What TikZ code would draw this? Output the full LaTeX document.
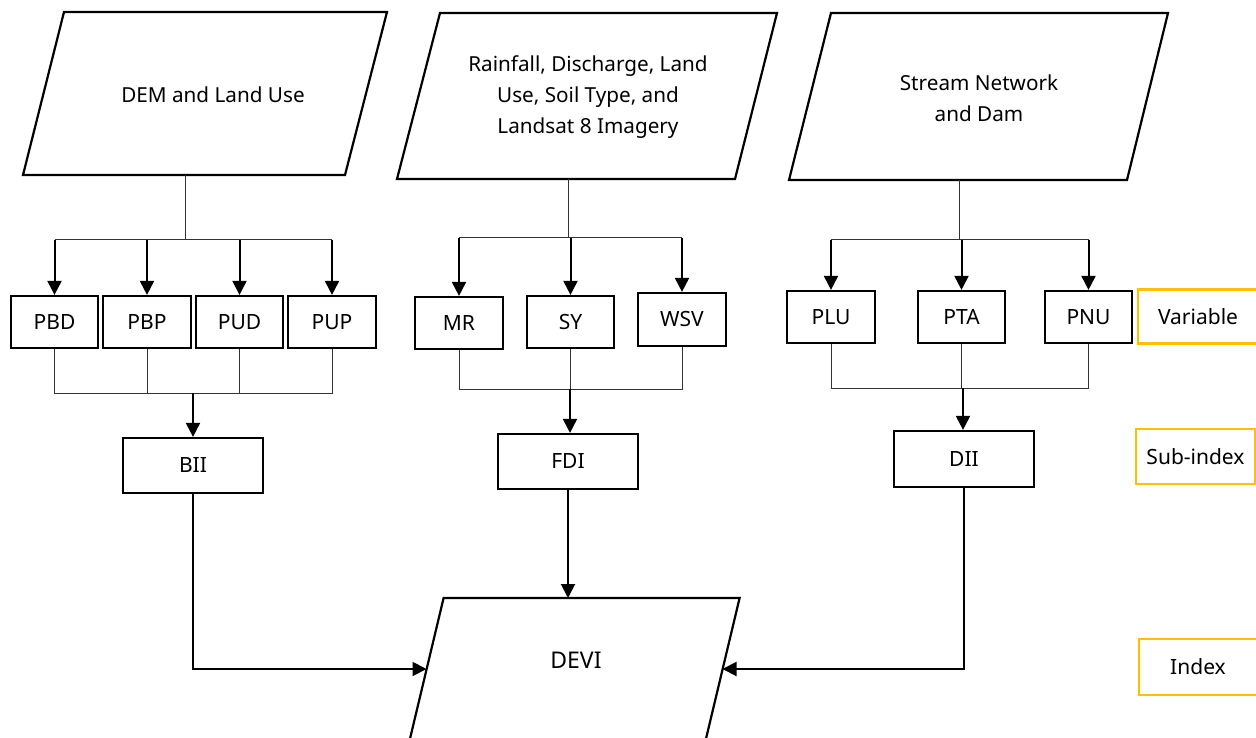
\documentclass[tikz,border=0pt]{standalone}
\usepackage{fontspec}
\setmainfont{Noto Sans}
\usetikzlibrary{arrows.meta}
\definecolor{gold}{HTML}{FFC000}
\begin{document}
\begin{tikzpicture}[x=1pt,y=-1pt,
  varbox/.style={draw,line width=2.2pt,minimum height=52pt,minimum width=87pt,inner sep=0pt,font=\fontsize{21}{25}\selectfont},
  subbox/.style={draw,line width=2.2pt,minimum height=55pt,minimum width=140pt,inner sep=0pt,font=\fontsize{21}{25}\selectfont},
  legbox/.style={draw=gold,line width=2.2pt,minimum height=54pt,inner sep=0pt,font=\fontsize{21}{25}\selectfont},
  para/.style={line width=2.2pt,line join=miter},
  paratext/.style={align=center,font=\fontsize{20.7}{31}\selectfont},
  thin/.style={line width=1pt,draw=black!80},
  arr/.style={line width=2pt,-{Triangle[width=14pt,length=14pt]}},
]
\useasboundingbox (0,0) rectangle (1256,738);
\clip (0,0) rectangle (1256,738);

% input parallelograms
\draw[para] (64,12) -- (387,12) -- (345,175) -- (23,175) -- cycle;
\node[paratext] (dem) at (213,95) {DEM and Land Use};
\coordinate (demB) at (185,175);

\draw[para] (440,13) -- (777,13) -- (735,179) -- (397,179) -- cycle;
\node[paratext] (rain) at (588,97) {Rainfall, Discharge, Land\\Use, Soil Type, and\\Landsat 8 Imagery};
\coordinate (rainB) at (568,179);

\draw[para] (831,13) -- (1168,13) -- (1127,180) -- (789,180) -- cycle;
\node[paratext] (stream) at (979,98) {Stream Network\\and Dam};
\coordinate (streamB) at (959,180);

% variables
\node[varbox] (pbd) at (54.5,322) {PBD};
\node[varbox,minimum width=88pt] (pbp) at (147,322) {PBP};
\node[varbox] (pud) at (239.5,322) {PUD};
\node[varbox,minimum width=88pt] (pup) at (332,322) {PUP};

\node[varbox,minimum width=88pt] (mr) at (459,323) {MR};
\node[varbox] (sy) at (570.5,322) {SY};
\node[varbox,minimum width=88pt,minimum height=53pt] (wsv) at (682,319.5) {WSV};

\node[varbox,minimum width=88pt] (plu) at (831,317) {PLU};
\node[varbox] (pta) at (961.5,317) {PTA};
\node[varbox] (pnu) at (1088.5,317) {PNU};

% sub-indices
\node[subbox] (bii) at (193,465.5) {BII};
\node[subbox] (fdi) at (568,461.5) {FDI};
\node[subbox,minimum height=56pt] (dii) at (964,459) {DII};

% index
\draw[para] (443.6,598) -- (739.6,598) -- (704.5,745) -- (408.5,745) -- cycle;
\node[font=\fontsize{23}{27}\selectfont] (devi) at (576,660) {DEVI};
\coordinate (deviL) at (426.5,669);
\coordinate (deviR) at (722.5,669);
\coordinate (deviT) at (568,598);

% legend
\node[legbox,minimum width=120pt] (lvar) at (1198,316.5) {Variable};
\node[legbox,minimum width=119pt,minimum height=55pt] (lsub) at (1195.5,456.5) {Sub-index};
\node[legbox,minimum width=118pt,minimum height=56pt] (lidx) at (1198,667) {Index};

% group 1 connectors
\coordinate (bus1) at (185,240);
\draw[thin] (demB) -- (bus1);
\draw[thin] (pbd.north |- bus1) -- (pup.north |- bus1);
\foreach \n in {pbd,pbp,pud,pup} \draw[arr] (\n.north |- bus1) -- (\n.north);
\coordinate (join1) at (193,393);
\draw[thin] (pbd.south) -- (pbd.south |- join1) -- (pup.south |- join1) -- (pup.south);
\draw[thin] (pbp.south) -- (pbp.south |- join1);
\draw[thin] (pud.south) -- (pud.south |- join1);
\draw[arr] (bii.north |- join1) -- (bii.north);

% group 2 connectors
\coordinate (bus2) at (568,238);
\draw[thin] (rainB) -- (bus2);
\draw[thin] (mr.north |- bus2) -- (wsv.north |- bus2);
\foreach \n in {mr,sy,wsv} \draw[arr] (\n.north |- bus2) -- (\n.north);
\coordinate (join2) at (570,389);
\draw[thin] (mr.south) -- (mr.south |- join2) -- (wsv.south |- join2) -- (wsv.south);
\draw[thin] (sy.south) -- (sy.south |- join2);
\draw[arr] (join2) -- (join2 |- fdi.north);

% group 3 connectors
\coordinate (bus3) at (959,240);
\draw[thin] (streamB) -- (bus3);
\draw[thin] (plu.north |- bus3) -- (pnu.north |- bus3);
\foreach \n in {plu,pta,pnu} \draw[arr] (\n.north |- bus3) -- (\n.north);
\coordinate (join3) at (963,388);
\draw[thin] (plu.south) -- (plu.south |- join3) -- (pnu.south |- join3) -- (pnu.south);
\draw[thin] (pta.south) -- (pta.south |- join3);
\draw[arr] (join3) -- (join3 |- dii.north);

% to DEVI
\draw[arr] (bii.south) |- (deviL);
\draw[arr] (dii.south) |- (deviR);
\draw[arr] (fdi.south) -- (deviT);
\end{tikzpicture}
\end{document}
